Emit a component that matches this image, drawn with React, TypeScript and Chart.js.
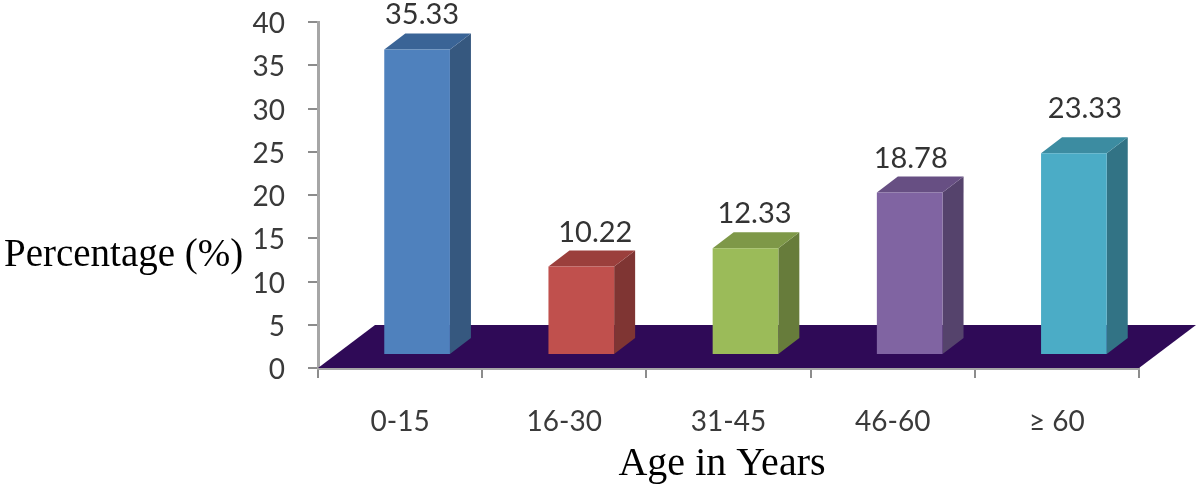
import React, { useEffect, useRef } from "react";
import { Chart, registerables } from "chart.js";

Chart.register(...registerables);

const categories = ["0-15", "16-30", "31-45", "46-60", "≥ 60"];
const percentages = [35.33, 10.22, 12.33, 18.78, 23.33];
const yTickMax = 40;
const yTickStep = 5;
const xAxisTitle = "Age in Years";
const yAxisTitle = "Percentage (%)";

const frontColors = ["#4F81BD", "#C0504D", "#9BBB59", "#8064A2", "#4BACC6"];
const sideColors = ["#36587F", "#7F3533", "#677C3B", "#55436C", "#327385"];
const topColors = ["#3A6496", "#9B3F3C", "#7E9848", "#674F83", "#3C8CA1"];
const labelNudge: [number, number][] = [[5, -35], [14, -34], [9, -35], [1, -34], [11, -45]];

const FRONT_DX = 17;
const FRONT_DY = -13;
const BAR_DX = 21;
const BAR_DY = -16;
const FLOOR_DX = 57;
const FLOOR_DY = -43;
const SERIF = '"Liberation Serif"';
const SANS = "Lato";

const poly = (ctx: CanvasRenderingContext2D, pts: number[][], fill: string) => {
  ctx.beginPath();
  pts.forEach(([x, y], i) => (i ? ctx.lineTo(x, y) : ctx.moveTo(x, y)));
  ctx.closePath();
  ctx.fillStyle = fill;
  ctx.fill();
};

const threeD = {
  id: "threeD",
  beforeDatasetsDraw(chart: any) {
    const { ctx, chartArea: a } = chart;
    ctx.save();
    poly(
      ctx,
      [
        [a.left, a.bottom],
        [a.right, a.bottom],
        [a.right + FLOOR_DX, a.bottom + FLOOR_DY],
        [a.left + FLOOR_DX, a.bottom + FLOOR_DY],
      ],
      "#2F0A57"
    );
    chart.getDatasetMeta(0).data.forEach((bar: any, i: number) => {
      const half = bar.width / 2;
      const l = bar.x - half + FRONT_DX;
      const r = bar.x + half + FRONT_DX;
      const t = bar.y + FRONT_DY;
      const b = bar.base + FRONT_DY;
      poly(ctx, [[r, t], [r + BAR_DX, t + BAR_DY], [r + BAR_DX, b + BAR_DY], [r, b]], sideColors[i]);
      poly(ctx, [[l, t], [l + BAR_DX, t + BAR_DY], [r + BAR_DX, t + BAR_DY], [r, t]], topColors[i]);
    });
    ctx.restore();
    ctx.save();
    ctx.translate(FRONT_DX, FRONT_DY);
  },
  afterDatasetsDraw(chart: any) {
    const { ctx, chartArea: a } = chart;
    ctx.restore();
    ctx.save();
    ctx.textAlign = "center";
    ctx.textBaseline = "middle";
    ctx.fillStyle = "#333333";
    ctx.font = `29px ${SANS}`;
    chart.getDatasetMeta(0).data.forEach((bar: any, i: number) => {
      const [dx, dy] = labelNudge[i];
      ctx.fillText(percentages[i].toFixed(2), bar.x + FRONT_DX + dx, bar.y + FRONT_DY + dy);
    });
    ctx.fillStyle = "#000000";
    ctx.font = `40px ${SERIF}`;
    ctx.fillText(xAxisTitle, a.left + 404, a.bottom + 96);
    ctx.font = `39px ${SERIF}`;
    ctx.textAlign = "left";
    ctx.fillText(yAxisTitle, 4, 256);
    ctx.restore();
  },
};

export default function App() {
  const ref = useRef<HTMLCanvasElement>(null);
  useEffect(() => {
    const chart = new Chart(ref.current as HTMLCanvasElement, {
      type: "bar",
      data: {
        labels: categories,
        datasets: [
          {
            label: yAxisTitle,
            data: percentages,
            backgroundColor: frontColors,
            borderWidth: 0,
            barPercentage: 0.4,
            categoryPercentage: 1,
          },
        ],
      },
      plugins: [threeD],
      options: {
        animation: false,
        responsive: false,
        layout: { padding: { top: 22, right: 61, left: 0, bottom: 0 } },
        plugins: { legend: { display: false }, tooltip: { enabled: false }, title: { display: false } },
        scales: {
          x: {
            afterFit: (s: any) => { s.height = 118; s.paddingLeft = 0; s.paddingRight = 0; },
            border: { color: "#A6A6A6", width: 3 },
            grid: { color: "#8C8C8C", lineWidth: 2, drawOnChartArea: false, tickLength: 10 },
            ticks: { color: "#3A3A3A", padding: 27, maxRotation: 0, font: { family: SANS, size: 28 } },
          },
          y: {
            min: 0,
            max: yTickMax,
            afterFit: (s: any) => { s.width = 318; s.paddingTop = 0; s.paddingBottom = 0; },
            border: { color: "#A6A6A6", width: 3 },
            grid: { color: "#8C8C8C", lineWidth: 2, drawOnChartArea: false, tickLength: 10 },
            ticks: { stepSize: yTickStep, color: "#3A3A3A", padding: 23, labelOffset: 2, font: { family: SANS, size: 28 } },
          },
        },
      },
    } as any);
    return () => chart.destroy();
  }, []);
  return (
    <div style={{ position: "fixed", left: 0, top: 0, width: 1200, height: 486, background: "#fff" }}>
      <canvas ref={ref} width={1200} height={486} style={{ display: "block" }} />
    </div>
  );
}
